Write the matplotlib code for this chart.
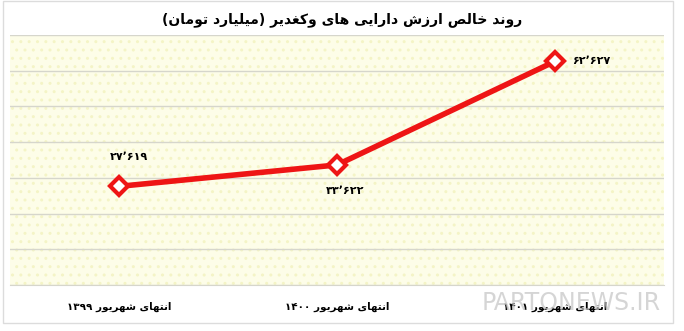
import matplotlib
matplotlib.use("Agg")
import matplotlib.pyplot as plt
from matplotlib.patches import Rectangle

# data (billion toman)
categories = ["انتهای شهریور ۱۳۹۹", "انتهای شهریور ۱۴۰۰", "انتهای شهریور ۱۴۰۱"]
values = [27619, 33622, 62627]
value_labels = ["۲۷٬۶۱۹", "۳۳٬۶۲۲", "۶۲٬۶۲۷"]
title = "روند خالص ارزش دارایی های وکغدیر (میلیارد تومان)"

# --- minimal Persian shaping (matplotlib has no bidi / joining) ---
# letter: (isolated, final, initial, medial); None initial -> right-joining only
FORMS = {
    "ا": (0xFE8D, 0xFE8E, None, None),
    "د": (0xFEA9, 0xFEAA, None, None),
    "ر": (0xFEAD, 0xFEAE, None, None),
    "ز": (0xFEAF, 0xFEB0, None, None),
    "و": (0xFEED, 0xFEEE, None, None),
    "ن": (0xFEE5, 0xFEE6, 0xFEE7, 0xFEE8),
    "خ": (0xFEA5, 0xFEA6, 0xFEA7, 0xFEA8),
    "ل": (0xFEDD, 0xFEDE, 0xFEDF, 0xFEE0),
    "ص": (0xFEB9, 0xFEBA, 0xFEBB, 0xFEBC),
    "ش": (0xFEB5, 0xFEB6, 0xFEB7, 0xFEB8),
    "ه": (0xFEE9, 0xFEEA, 0xFEEB, 0xFEEC),
    "غ": (0xFECD, 0xFECE, 0xFECF, 0xFED0),
    "م": (0xFEE1, 0xFEE2, 0xFEE3, 0xFEE4),
    "ت": (0xFE95, 0xFE96, 0xFE97, 0xFE98),
    "ی": (0xFBFC, 0xFBFD, 0xFBFE, 0xFBFF),
    "ک": (0xFB8E, 0xFB8F, 0xFB90, 0xFB91),
    "ب": (0xFE8F, 0xFE90, 0xFE91, 0xFE92),
}
DIGITS = set("۰۱۲۳۴۵۶۷۸۹0123456789٬,.")


def shape(text):
    out = []
    for i, ch in enumerate(text):
        if ch not in FORMS:
            out.append(ch)
            continue
        iso, fin, ini, med = FORMS[ch]
        prev = text[i - 1] if i > 0 else ""
        nxt = text[i + 1] if i + 1 < len(text) else ""
        join_prev = prev in FORMS and FORMS[prev][2] is not None
        join_next = nxt in FORMS and ini is not None
        if join_prev and join_next:
            code = med
        elif join_prev:
            code = fin
        elif join_next:
            code = ini
        else:
            code = iso
        out.append(chr(code))
    return "".join(out)


def rtl(text):
    s = shape(text)
    runs, cur, cur_digit = [], "", None
    for ch in s:
        d = ch in DIGITS
        if cur and d != cur_digit:
            runs.append((cur, cur_digit))
            cur = ""
        cur += ch
        cur_digit = d
    if cur:
        runs.append((cur, cur_digit))
    parts = []
    for run, is_digit in reversed(runs):
        parts.append(run if is_digit else run[::-1])
    res = "".join(parts)
    return res.translate(str.maketrans("()", ")("))


plt.rcParams['font.family'] = ['DejaVu Sans']

fig = plt.figure(figsize=(6.84, 3.31), dpi=100)
fig.patch.set_facecolor('white')
fig.patches.append(Rectangle((3 / 684, 8 / 331), 670 / 684, 322 / 331, transform=fig.transFigure,
                             fill=False, edgecolor='#dcdcdc', linewidth=1))

ax = fig.add_axes([10 / 684, (331 - 285) / 331, 654 / 684, 250 / 331])
ax.set_facecolor('#fdfde8')
ax.add_patch(Rectangle((0, 0), 1, 1, transform=ax.transAxes, facecolor='none',
                       edgecolor='#f4f4c6', hatch='..', linewidth=0, zorder=0))

x = list(range(len(categories)))
ax.plot(x, values, color='#ee1515', linewidth=4, marker='D', markersize=9,
        markerfacecolor='white', markeredgecolor='#ee1515', markeredgewidth=3,
        solid_capstyle='round', zorder=3)

ax.set_xlim(-0.5, 2.5)
ax.set_ylim(0, 70000)
ax.set_yticks(range(0, 70001, 10000))
ax.yaxis.grid(True, color='#d6d6cc', linewidth=1)
ax.set_axisbelow(True)
ax.tick_params(left=False, bottom=False, labelleft=False, labelbottom=False)
for side in ['left', 'right', 'top']:
    ax.spines[side].set_visible(False)
ax.spines['bottom'].set_color('#d6d6cc')

# value labels
ax.annotate(rtl(value_labels[0]), (x[0], values[0]), xytext=(7, 21), textcoords='offset points',
            ha='center', va='center', fontsize=8, fontweight='bold')
ax.annotate(rtl(value_labels[1]), (x[1], values[1]), xytext=(6, -19), textcoords='offset points',
            ha='center', va='center', fontsize=8, fontweight='bold')
ax.annotate(rtl(value_labels[2]), (x[2], values[2]), xytext=(12, 0), textcoords='offset points',
            ha='left', va='center', fontsize=8, fontweight='bold')

# category labels below the plot
for xi, cat in zip(x, categories):
    ax.text(xi, -6200, rtl(cat), ha='center', va='center', fontsize=7.5, fontweight='bold')

fig.text(0.5, 0.94, rtl(title), ha='center', va='center', fontsize=10, fontweight='bold')

# watermark
fig.text(0.835, 0.085, "PARTONEWS.IR", ha='center', va='center', fontsize=17,
         color='#c4c4c4', alpha=0.7)

fig.savefig('out.png', dpi=100)
